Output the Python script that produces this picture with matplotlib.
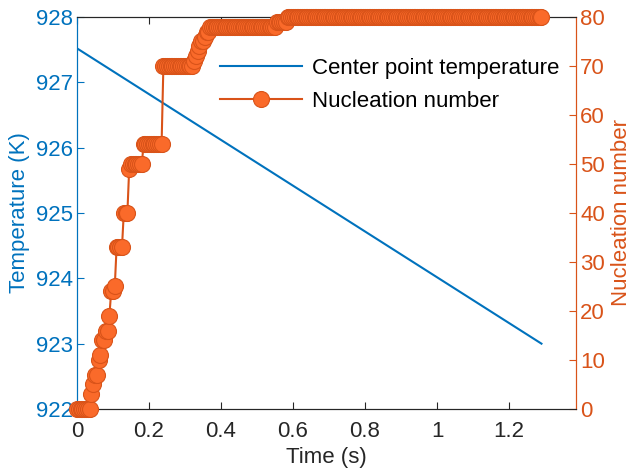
import numpy as np
import matplotlib
matplotlib.use("Agg")
import matplotlib.pyplot as plt

plt.rcParams['font.family'] = ['Liberation Sans', 'DejaVu Sans']

# --- data ------------------------------------------------------------------
# centre point temperature (straight line)
temp_time = [0.0, 1.29]
temp_vals = [927.52, 923.0]

# nucleation number: level that starts at each time (step series)
step_time = [0.0, 0.04, 0.045, 0.05, 0.06, 0.065, 0.07, 0.08, 0.09, 0.095,
             0.105, 0.11, 0.13, 0.145, 0.15, 0.185, 0.24, 0.325, 0.33, 0.335,
             0.34, 0.345, 0.355, 0.36, 0.37, 0.555, 0.585]
step_vals = [0, 3, 5, 7, 10, 11, 14, 16, 19, 24,
             25, 33, 40, 49, 50, 54, 70, 71, 72, 73,
             74, 75, 76, 77, 78, 79, 80]
sample_dt = 0.005
t_end = 1.29

BLUE = '#0072BD'
ORANGE = '#D95319'
FACE = '#FA6A2A'
DARK = '#262626'

t = np.round(np.arange(0, t_end + 1e-9, sample_dt), 4)
idx = np.searchsorted(np.array(step_time), t + 1e-9, side='right') - 1
nuc = np.array(step_vals)[idx]

fig = plt.figure(figsize=(6.33, 4.72), dpi=100)
ax = fig.add_axes([0.1216, 0.1335, 0.7884, 0.8305])
ax2 = ax.twinx()

l1, = ax.plot(temp_time, temp_vals, color=BLUE, lw=1.5,
              label='Center point temperature')
l2, = ax2.plot(t, nuc, '-o', color=ORANGE, lw=1.5, ms=11.5,
               mfc=FACE, mec=ORANGE, mew=0.8, clip_on=False,
               label='Nucleation number', zorder=5)

ax.set_xlim(0, 1.386)
ax.set_ylim(922, 928)
ax2.set_ylim(0, 80)
ax.set_xticks([0, 0.2, 0.4, 0.6, 0.8, 1.0, 1.2])
ax.set_xticklabels(['0', '0.2', '0.4', '0.6', '0.8', '1', '1.2'])
ax.set_yticks(range(922, 929))
ax2.set_yticks(range(0, 81, 10))

fs = 16
ax.tick_params(axis='x', direction='in', top=True, length=5, labelsize=fs,
               colors=DARK, pad=9)
ax.tick_params(axis='y', direction='in', length=5, labelsize=fs,
               colors=BLUE, pad=3)
ax2.tick_params(axis='y', direction='in', length=5, labelsize=fs,
                colors=ORANGE, pad=3)

for a in (ax, ax2):
    a.spines['top'].set_color(DARK)
    a.spines['bottom'].set_color(DARK)
    a.spines['left'].set_color(BLUE)
    a.spines['right'].set_color(ORANGE)

ax.set_xlabel('Time (s)', fontsize=fs, color=DARK, labelpad=3)
ax.set_ylabel('Temperature (K)', fontsize=fs, color=BLUE, labelpad=4)
ax2.set_ylabel('Nucleation number', fontsize=fs, color=ORANGE, labelpad=4)

ax2.legend([l1, l2], [l1.get_label(), l2.get_label()], loc='upper left',
           bbox_to_anchor=(0.2866, 0.896), frameon=False, fontsize=fs,
           handlelength=3.7, handletextpad=0.45, labelspacing=0.55,
           borderpad=0, borderaxespad=0)

fig.savefig('out.png', dpi=100)
